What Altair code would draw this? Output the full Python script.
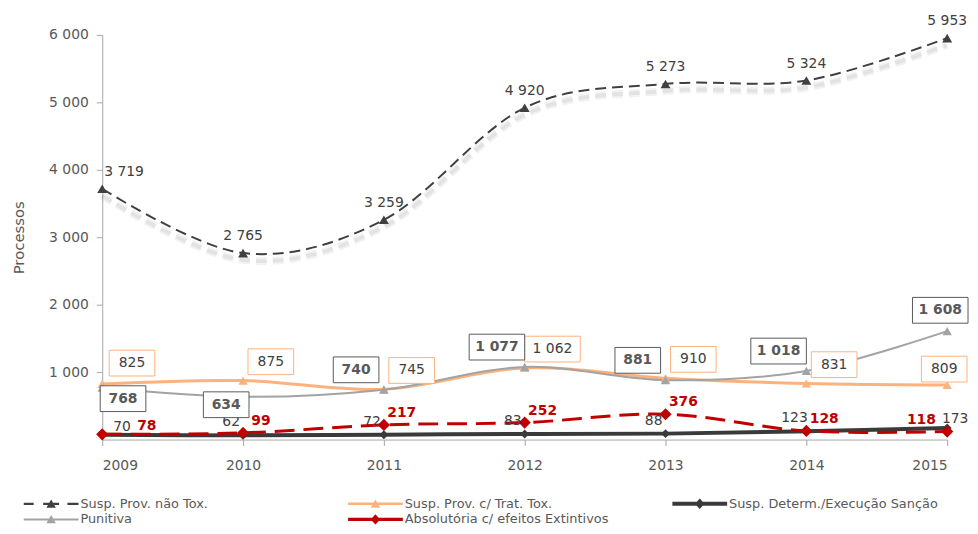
import altair as alt
import pandas as pd

# ---------------- data ----------------
YEARS = [2009, 2010, 2011, 2012, 2013, 2014, 2015]
SERIES = [
    "Susp. Prov. não Tox.",
    "Susp. Prov. c/ Trat. Tox.",
    "Susp. Determ./Execução Sanção",
    "Punitiva",
    "Absolutória c/ efeitos Extintivos",
]
NAO_TOX = [3719, 2765, 3259, 4920, 5273, 5324, 5953]
TRAT_TOX = [825, 875, 745, 1062, 910, 831, 809]
DETERM = [70, 62, 72, 83, 88, 123, 173]
PUNITIVA = [768, 634, 740, 1077, 881, 1018, 1608]
ABSOLUT = [78, 99, 217, 252, 376, 128, 118]
Y_TICKS = [1000, 2000, 3000, 4000, 5000, 6000]

FONT = "DejaVu Sans"
TEXT = "#595959"
C_NAO = "#404040"
C_TRAT = "#FBB27D"
C_DET = "#3A3A3A"
C_PUN = "#A3A3A3"
C_ABS = "#C00000"
COLORS = [C_NAO, C_TRAT, C_DET, C_PUN, C_ABS]


def fmt(v):
    return f"{v:,}".replace(",", " ")


values_by_series = dict(zip(SERIES, [NAO_TOX, TRAT_TOX, DETERM, PUNITIVA, ABSOLUT]))
rows = []
for s, vals in values_by_series.items():
    for i, (yr, v) in enumerate(zip(YEARS, vals)):
        slot = "first" if i == 0 else ("last" if i == len(YEARS) - 1 else "mid")
        if s == "Punitiva" and v < TRAT_TOX[i] - 50:
            slot += "_below"
        rows.append({"year": yr, "series": s, "value": v, "label": fmt(v), "slot": slot})
df = pd.DataFrame(rows)

base = alt.Chart(df)

X = alt.X(
    "year:Q",
    scale=alt.Scale(domain=[YEARS[0], YEARS[-1]], nice=False, zero=False),
    axis=alt.Axis(
        values=YEARS, format="d", title=None, grid=False,
        domainColor="#A6A6A6", tickColor="#A6A6A6", tickSize=6,
        labelFont=FONT, labelFontSize=14, labelColor=TEXT, labelPadding=13,
    ),
)
Y = alt.Y(
    "value:Q",
    scale=alt.Scale(domain=[0, Y_TICKS[-1]], nice=False),
    axis=alt.Axis(
        values=Y_TICKS, grid=False,
        labelExpr="replace(format(datum.value, ',d'), ',', ' ')",
        title="Processos", titleFont=FONT, titleFontSize=15, titleColor=TEXT,
        titleFontWeight="normal", titlePadding=22,
        domainColor="#A6A6A6", tickColor="#A6A6A6", tickSize=6,
        labelFont=FONT, labelFontSize=14, labelColor=TEXT, labelPadding=8,
    ),
)


def of(series):
    return base.transform_filter(alt.datum.series == series)


def line(series, color, width, dash=None, **kw):
    m = dict(color=color, strokeWidth=width, interpolate="cardinal")
    if dash:
        m["strokeDash"] = dash
    m.update(kw)
    return of(series).mark_line(**m).encode(x=X, y=Y)


def pts(series, color, shape, size):
    return of(series).mark_point(
        filled=True, opacity=1, color=color, shape=shape, size=size, strokeWidth=0
    ).encode(x=X, y=Y)


layers = [
    line(SERIES[0], "#000000", 8, [11, 6], opacity=0.05, yOffset=7),
    line(SERIES[0], "#000000", 4, [11, 6], opacity=0.06, yOffset=7),
    line(SERIES[1], C_TRAT, 3),
    line(SERIES[3], C_PUN, 2),
    line(SERIES[2], C_DET, 4),
    line(SERIES[4], C_ABS, 3, [20, 9]),
    line(SERIES[0], C_NAO, 2, [11, 6]),
    pts(SERIES[1], C_TRAT, "triangle-up", 90),
    pts(SERIES[3], C_PUN, "triangle-up", 90),
    pts(SERIES[2], C_DET, "diamond", 80),
    pts(SERIES[4], C_ABS, "diamond", 150),
    pts(SERIES[0], C_NAO, "triangle-up", 100),
]

# label placement rules (pixel offsets from each point, per series and slot)
PLACE = {
    SERIES[0]: {"first": (22, -17), "mid": (0, -17), "last": (0, -17)},
    SERIES[1]: {"first": (30, -21), "mid": (28, -19), "last": (-3, -16)},
    SERIES[3]: {"first_below": (21, 11), "mid_below": (-17, 8), "mid": (-28, -20), "last": (-7, -21)},
    SERIES[2]: {"first": (20, -8), "mid": (-12, -13), "last": (8, -9)},
    SERIES[4]: {"first": (45, -8), "mid": (18, -12), "last": (-26, -12)},
}
STYLE = {
    SERIES[0]: dict(color="#404040", weight="normal", box=None),
    SERIES[1]: dict(color="#404040", weight="normal", box=C_TRAT),
    SERIES[3]: dict(color=TEXT, weight="bold", box="#595959"),
    SERIES[2]: dict(color="#404040", weight="normal", box=None),
    SERIES[4]: dict(color=C_ABS, weight="bold", box=None),
}

for s in [SERIES[0], SERIES[2], SERIES[4], SERIES[1], SERIES[3]]:
    st = STYLE[s]
    for slot, (dx, dy) in PLACE[s].items():
        sub = base.transform_filter((alt.datum.series == s) & (alt.datum.slot == slot))
        if st["box"]:
            for wide in (False, True):
                w = 56 if wide else 46
                cond = "length(datum.label) > 3" if wide else "length(datum.label) <= 3"
                layers.append(
                    sub.transform_filter(cond).mark_rect(
                        fill="white", stroke=st["box"], strokeWidth=1,
                        xOffset=dx - w / 2, x2Offset=dx + w / 2,
                        yOffset=dy - 13, y2Offset=dy + 13,
                    ).encode(x=X, x2=alt.X2("year:Q"), y=Y, y2=alt.Y2("value:Q"))
                )
        layers.append(
            sub.mark_text(
                dx=dx, dy=dy, align="center", baseline="middle", font=FONT,
                fontSize=14, fontWeight=st["weight"], color=st["color"],
            ).encode(x=X, y=Y, text="label:N")
        )


# ---------------- legend (symbols: line + marker, drawn as filled paths) ----------------
def bar(x0, x1, h):
    return f"M{x0},{-h}L{x1},{-h}L{x1},{h}L{x0},{h}Z"


TRI = "M-1.2,1L0,-1.1L1.2,1Z"
DIA = "M0,-1.3L1.2,0L0,1.3L-1.2,0Z"
PATHS = [
    bar(-6.9, -4.4, 0.28) + bar(4.1, 6.9, 0.28) + bar(-2, 2, 0.28) + TRI,
    bar(-6.9, 6.9, 0.33) + TRI,
    bar(-6.9, 6.9, 0.5) + DIA,
    bar(-6.9, 6.9, 0.25) + TRI,
    bar(-6.9, 6.9, 0.4) + DIA,
]

leg = dict(
    title=None, orient="none", legendX=-58, legendY=466, columns=3, direction="horizontal",
    gridAlign="all", columnPadding=58, rowPadding=2, labelFont=FONT, labelFontSize=13,
    labelColor=TEXT, labelOffset=23, symbolSize=64, symbolStrokeWidth=0, labelLimit=400,
)
legend_layer = (
    alt.Chart(pd.DataFrame({"series": SERIES}))
    .transform_filter("false")
    .mark_point(filled=True, opacity=1, size=64, strokeWidth=0)
    .encode(
        color=alt.Color("series:N", scale=alt.Scale(domain=SERIES, range=COLORS), legend=alt.Legend(**leg)),
        shape=alt.Shape("series:N", scale=alt.Scale(domain=SERIES, range=PATHS), legend=alt.Legend(**leg)),
    )
)
layers.append(legend_layer)

chart = (
    alt.layer(*layers)
    .properties(
        width=852, height=408,
        autosize=alt.AutoSizeParams(type="none"),
        padding={"left": 95, "top": 25, "right": 23, "bottom": 85},
        background="white",
    )
    .configure_view(stroke=None)
)

chart.save("out.html", embed_options={"renderer": "svg", "actions": False})
